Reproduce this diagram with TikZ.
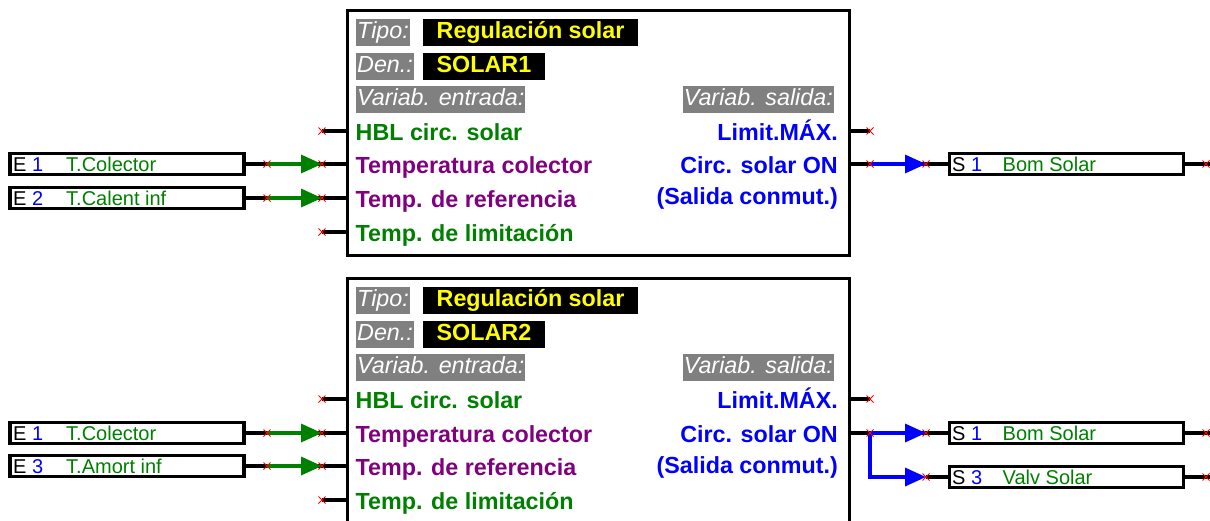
\documentclass[tikz,border=0pt]{standalone}
\usepackage{fontspec}
\setmainfont{Liberation Sans}
\usetikzlibrary{arrows.meta}
\definecolor{pgreen}{RGB}{0,128,0}
\definecolor{ppurple}{RGB}{128,0,128}
\definecolor{pblue}{RGB}{0,0,255}
\definecolor{pyellow}{RGB}{255,255,0}
\definecolor{pgray}{RGB}{128,128,128}
\definecolor{pred}{RGB}{255,0,0}
\tikzset{
  blockbox/.style={draw=black,line width=3.2pt,fill=white,inner sep=0pt,anchor=north west,minimum width=502pt},
  iobox/.style={draw=black,line width=3.2pt,fill=white,inner sep=0pt,minimum width=234pt,minimum height=21pt},
  iotxt/.style={font=\fontsize{20}{24}\selectfont,inner sep=0pt,anchor=base west},
  pinl/.style={font=\fontsize{23.3}{28}\selectfont\bfseries,inner sep=0pt,anchor=base west},
  pinr/.style={font=\fontsize{23.3}{28}\selectfont\bfseries,inner sep=0pt,anchor=base east,text=pblue},
  graylbl/.style={fill=pgray,text=white,font=\fontsize{23.3}{28}\selectfont\itshape,inner xsep=1pt,inner ysep=0pt,minimum height=27pt,text height=17pt,text depth=5pt,anchor=west},
  blacklbl/.style={fill=black,text=pyellow,font=\fontsize{23.3}{28}\selectfont\bfseries,inner xsep=13.5pt,inner ysep=0pt,minimum height=27pt,text height=17pt,text depth=5pt,anchor=west},
  wire/.style={draw=black,line width=3.2pt},
  sig/.style={line width=3.4pt,-{Triangle[length=21pt,width=18pt]}},
  xmark/.pic={\draw[pred,line width=0.8pt] (-3.5,-3.5) -- (3.5,3.5) (-3.5,3.5) -- (3.5,-3.5);}
}
\begin{document}
\begin{tikzpicture}[x=1pt,y=-1pt]
\useasboundingbox (0,0) rectangle (1210,520);
\fill[white] (0,0) rectangle (1210,520);
\clip (0,0) rectangle (1210,520);

% ================= Block 1 =================
\node[blockbox,minimum height=245pt] (blk1) at (345.5,8.5) {};
\coordinate (p1a) at (322,131);
\coordinate (p1b) at (322,164);
\coordinate (p1c) at (322,198);
\coordinate (p1d) at (322,232);
\coordinate (q1a) at (870,131);
\coordinate (q1b) at (870,164);
\coordinate (c11) at (267,164);
\coordinate (c12) at (267,198);
\coordinate (d11) at (926,164);
\coordinate (f11) at (1212,164);

\node[graylbl] (h1a) at (356,32.7) {Tipo:};
\node[blacklbl] (h1b) at (423,32.7) {Regulación solar};
\node[graylbl] (h1c) at (356,66) {Den.:};
\node[blacklbl] (h1d) at (423,66) {SOLAR1};
\node[graylbl] (h1e) at (356,99.7) {Variab. entrada:};
\node[graylbl,anchor=east] (h1f) at (834,99.7) {Variab. salida:};

\node[pinl,text=pgreen] (l1a) at (355.5,140.5) {HBL circ. solar};
\node[pinl,text=ppurple] (l1b) at (355.5,173.5) {Temperatura colector};
\node[pinl,text=ppurple] (l1c) at (355.5,207.5) {Temp. de referencia};
\node[pinl,text=pgreen] (l1d) at (355.5,241.5) {Temp. de limitación};
\node[pinr] (r1a) at (838,140) {Limit.MÁX.};
\node[pinr] (r1b) at (838,173) {Circ. solar ON};
\node[pinr] (r1c) at (838,204) {(Salida conmut.)};

\node[iobox] (e11) at (127,164) {};
\node[iotxt] (e11a) at (13,171) {E};
\node[iotxt,text=pblue] (e11b) at (32,171) {1};
\node[iotxt,text=pgreen] (e11c) at (66,171) {T.Colector};
\node[iobox] (e12) at (127,198) {};
\node[iotxt] (e12a) at (13,205) {E};
\node[iotxt,text=pblue] (e12b) at (32,205) {2};
\node[iotxt,text=pgreen] (e12c) at (66,205) {T.Calent inf};

\node[iobox] (s11) at (1066.5,164) {};
\node[iotxt] (s11a) at (952,171) {S};
\node[iotxt,text=pblue] (s11b) at (971,171) {1};
\node[iotxt,text=pgreen] (s11c) at (1002.5,171) {Bom Solar};

\draw[wire] (p1a) -- (p1a -| blk1.west);
\draw[wire] (p1d) -- (p1d -| blk1.west);
\draw[wire] (e11.east) -- (e11.east -| blk1.west);
\draw[wire] (e12.east) -- (e12.east -| blk1.west);
\draw[wire] (q1a -| blk1.east) -- (q1a);
\draw[wire] (q1b -| blk1.east) -- (s11.west);
\draw[wire] (s11.east) -- (f11);
\draw[sig,pgreen] (c11) -- (p1b);
\draw[sig,pgreen] (c12) -- (p1c);
\draw[sig,pblue] (q1b) -- (d11);
\foreach \m in {p1a,p1b,p1c,p1d,q1a,q1b,c11,c12,d11} \pic at (\m) {xmark};
\pic at (1206,164) {xmark};

% ================= Block 2 =================
\node[blockbox,minimum height=300pt] (blk2) at (345.5,276.5) {};
\coordinate (p2a) at (322,399);
\coordinate (p2b) at (322,433);
\coordinate (p2c) at (322,466);
\coordinate (p2d) at (322,500);
\coordinate (q2a) at (870,399);
\coordinate (q2b) at (870,433);
\coordinate (c21) at (267,433);
\coordinate (c22) at (267,466);
\coordinate (d21) at (926,433);
\coordinate (d23) at (926,477);
\coordinate (f21) at (1212,433);
\coordinate (f23) at (1212,477);

\node[graylbl] (h2a) at (356,300.7) {Tipo:};
\node[blacklbl] (h2b) at (423,300.7) {Regulación solar};
\node[graylbl] (h2c) at (356,334) {Den.:};
\node[blacklbl] (h2d) at (423,334) {SOLAR2};
\node[graylbl] (h2e) at (356,367.7) {Variab. entrada:};
\node[graylbl,anchor=east] (h2f) at (834,367.7) {Variab. salida:};

\node[pinl,text=pgreen] (l2a) at (355.5,408.5) {HBL circ. solar};
\node[pinl,text=ppurple] (l2b) at (355.5,442.5) {Temperatura colector};
\node[pinl,text=ppurple] (l2c) at (355.5,475.5) {Temp. de referencia};
\node[pinl,text=pgreen] (l2d) at (355.5,509.5) {Temp. de limitación};
\node[pinr] (r2a) at (838,408) {Limit.MÁX.};
\node[pinr] (r2b) at (838,442) {Circ. solar ON};
\node[pinr] (r2c) at (838,473) {(Salida conmut.)};

\node[iobox] (e21) at (127,433) {};
\node[iotxt] (e21a) at (13,440) {E};
\node[iotxt,text=pblue] (e21b) at (32,440) {1};
\node[iotxt,text=pgreen] (e21c) at (66,440) {T.Colector};
\node[iobox] (e23) at (127,466) {};
\node[iotxt] (e23a) at (13,473) {E};
\node[iotxt,text=pblue] (e23b) at (32,473) {3};
\node[iotxt,text=pgreen] (e23c) at (66,473) {T.Amort inf};

\node[iobox] (s21) at (1066.5,433) {};
\node[iotxt] (s21a) at (952,440) {S};
\node[iotxt,text=pblue] (s21b) at (971,440) {1};
\node[iotxt,text=pgreen] (s21c) at (1002.5,440) {Bom Solar};
\node[iobox] (s23) at (1066.5,477) {};
\node[iotxt] (s23a) at (952,484) {S};
\node[iotxt,text=pblue] (s23b) at (971,484) {3};
\node[iotxt,text=pgreen] (s23c) at (1002.5,484) {Valv Solar};

\draw[wire] (p2a) -- (p2a -| blk2.west);
\draw[wire] (p2d) -- (p2d -| blk2.west);
\draw[wire] (e21.east) -- (e21.east -| blk2.west);
\draw[wire] (e23.east) -- (e23.east -| blk2.west);
\draw[wire] (q2a -| blk2.east) -- (q2a);
\draw[wire] (q2b -| blk2.east) -- (s21.west);
\draw[wire] (d23) -- (s23.west);
\draw[wire] (s21.east) -- (f21);
\draw[wire] (s23.east) -- (f23);
\draw[sig,pgreen] (c21) -- (p2b);
\draw[sig,pgreen] (c22) -- (p2c);
\draw[sig,pblue] (q2b) -- (d21);
\draw[sig,pblue] (q2b) |- (d23);
\foreach \m in {p2a,p2b,p2c,p2d,q2a,q2b,c21,c22,d21,d23} \pic at (\m) {xmark};
\pic at (1206,433) {xmark};
\pic at (1206,477) {xmark};
\end{tikzpicture}
\end{document}
